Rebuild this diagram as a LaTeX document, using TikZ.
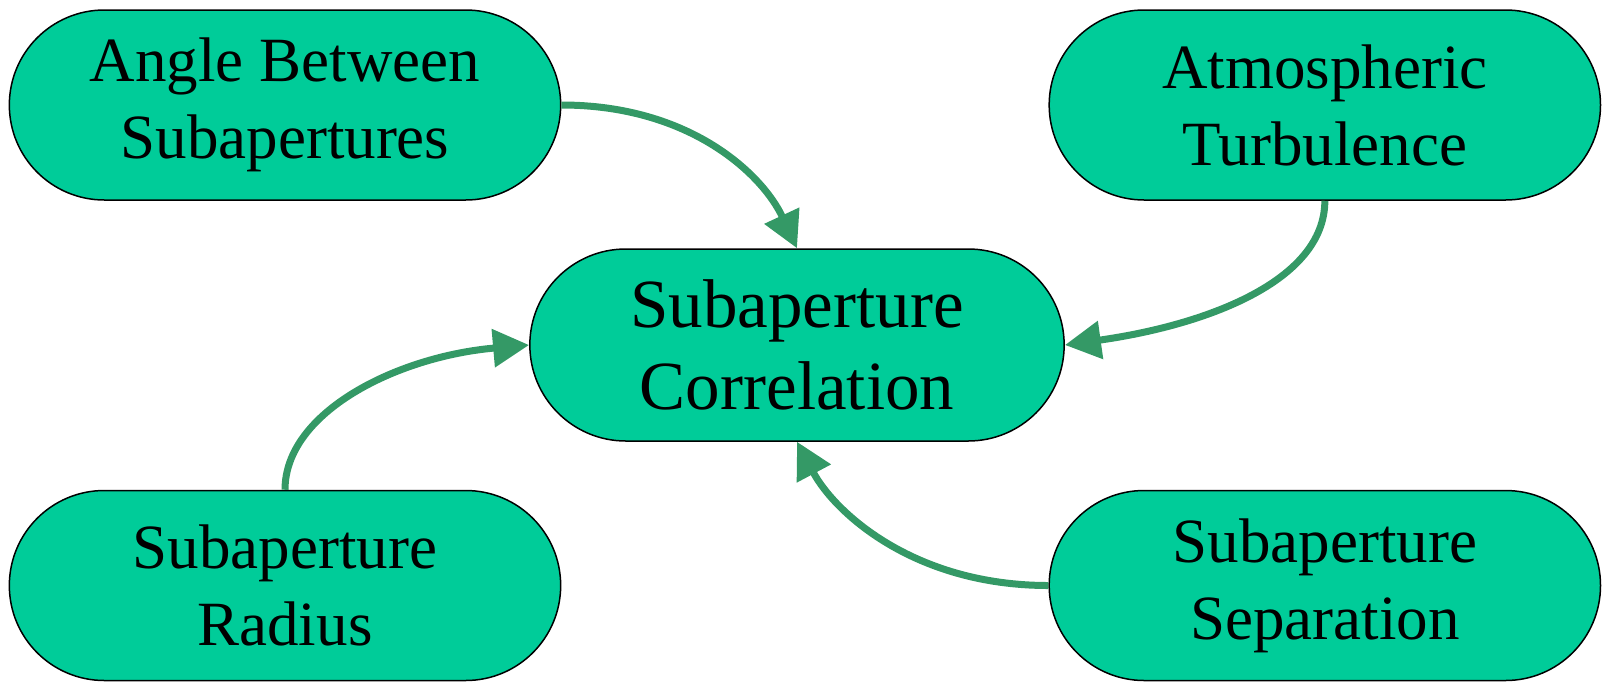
\documentclass[tikz,border=0pt]{standalone}
\usepackage{fontspec}
\setmainfont{Liberation Serif}
\usepackage{tikz}
\usetikzlibrary{shapes.misc, arrows.meta, positioning}
\definecolor{termgreen}{RGB}{0,204,153}
\definecolor{arrowgreen}{RGB}{52,153,102}

\begin{document}
\begin{tikzpicture}[x=1pt, y=1pt,
  term/.style={rounded rectangle, draw=black, line width=1.5pt, fill=termgreen,
               minimum width=558pt, minimum height=190pt, align=center,
               font=\fontsize{63}{77}\selectfont},
  hub/.style={term, minimum width=541pt, minimum height=192pt,
              font=\fontsize{69}{82}\selectfont},
  arrow/.style={-{Triangle[length=36pt, width=37pt]}, line width=7pt, arrowgreen},
]
\useasboundingbox (0,0) rectangle (1603,-681);
\node[term] (angle) at (285,-105) {Angle Between\\Subapertures};
\node[term, right=487pt of angle] (turb) {Atmospheric\\Turbulence};
\node[term, below=289pt of angle] (radius) {Subaperture\\Radius};
\node[term, right=487pt of radius] (sep) {Subaperture\\Separation};
\node[hub] (corr) at (797,-345) {Subaperture\\Correlation};
\draw[arrow] (angle.east) to[out=0, in=115, out looseness=1.2, in looseness=0.75] (corr.north);
\draw[arrow] (turb.south) to[out=-90, in=8, out looseness=0.7, in looseness=1.2] (corr.east);
\draw[arrow] (radius.north) to[out=90, in=185, out looseness=0.7, in looseness=1.2] (corr.west);
\draw[arrow] (sep.west) to[out=180, in=-62, out looseness=1.2, in looseness=0.7] (corr.south);
\end{tikzpicture}
\end{document}
